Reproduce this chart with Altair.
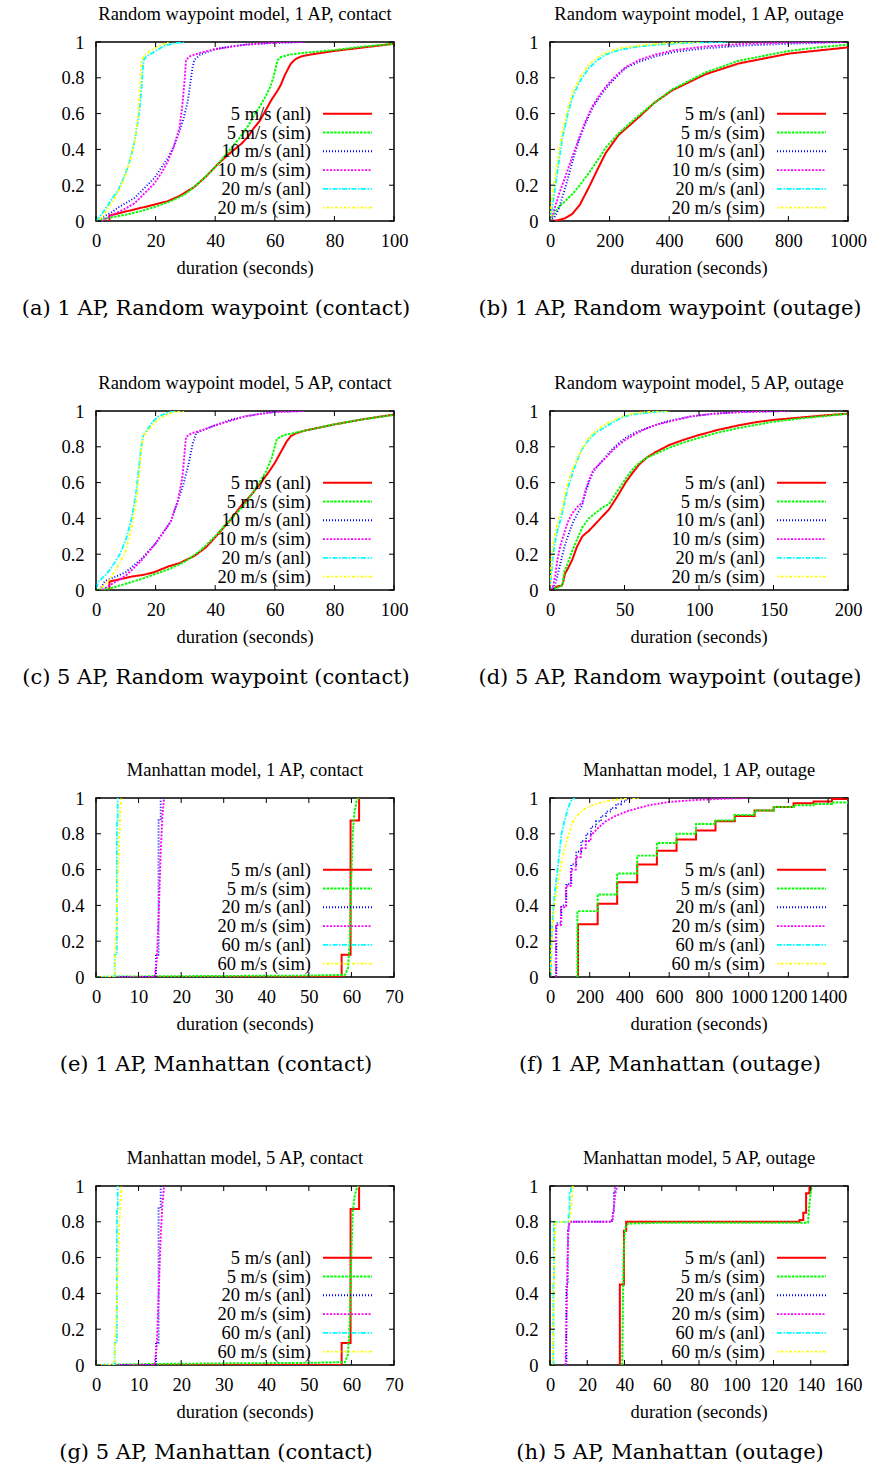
import altair as alt
import pandas as pd

# ---------------- text ----------------
TITLES = [
    "Random waypoint model, 1 AP, contact",
    "Random waypoint model, 1 AP, outage",
    "Random waypoint model, 5 AP, contact",
    "Random waypoint model, 5 AP, outage",
    "Manhattan model, 1 AP, contact",
    "Manhattan model, 1 AP, outage",
    "Manhattan model, 5 AP, contact",
    "Manhattan model, 5 AP, outage",
]
CAPTIONS = [
    "(a) 1 AP, Random waypoint (contact)",
    "(b) 1 AP, Random waypoint (outage)",
    "(c) 5 AP, Random waypoint (contact)",
    "(d) 5 AP, Random waypoint (outage)",
    "(e) 1 AP, Manhattan (contact)",
    "(f) 1 AP, Manhattan (outage)",
    "(g) 5 AP, Manhattan (contact)",
    "(h) 5 AP, Manhattan (outage)",
]
X_LABEL = "duration (seconds)"
LABELS_RW = ["5 m/s (anl)", "5 m/s (sim)", "10 m/s (anl)", "10 m/s (sim)", "20 m/s (anl)", "20 m/s (sim)"]
LABELS_MH = ["5 m/s (anl)", "5 m/s (sim)", "20 m/s (anl)", "20 m/s (sim)", "60 m/s (anl)", "60 m/s (sim)"]

# ---------------- axes ----------------
X_MAX = [100, 1000, 100, 200, 70, 1500, 70, 160]
X_TICKS = [
    [0, 20, 40, 60, 80, 100],
    [0, 200, 400, 600, 800, 1000],
    [0, 20, 40, 60, 80, 100],
    [0, 50, 100, 150, 200],
    [0, 10, 20, 30, 40, 50, 60, 70],
    [0, 200, 400, 600, 800, 1000, 1200, 1400],
    [0, 10, 20, 30, 40, 50, 60, 70],
    [0, 20, 40, 60, 80, 100, 120, 140, 160],
]
Y_TICKS = [0, 0.2, 0.4, 0.6, 0.8, 1]

# ---------------- (a) Random waypoint, 1 AP, contact ----------------
A_5ANL = [(4.5, 0), (4.5, 0.03), (8, 0.045), (13, 0.065), (18, 0.085), (24, 0.11), (28, 0.14), (33, 0.19),
          (37, 0.25), (41, 0.32), (45, 0.38), (48.7, 0.43), (51, 0.47), (53, 0.52), (55, 0.56), (57, 0.62),
          (59, 0.68), (61, 0.73), (62, 0.76), (63.5, 0.82), (65.4, 0.88), (67, 0.905), (69, 0.92), (72, 0.93),
          (80, 0.95), (90, 0.97), (100, 0.99)]
A_5SIM = [(0, 0), (2, 0.01), (5, 0.02), (10, 0.035), (15, 0.055), (20, 0.08), (25, 0.11), (30, 0.15), (35, 0.22),
          (40, 0.3), (45, 0.4), (48, 0.46), (51, 0.53), (53, 0.59), (55, 0.64), (57, 0.7), (58.5, 0.75),
          (59.5, 0.8), (60.5, 0.87), (61, 0.9), (62, 0.915), (65, 0.93), (70, 0.94), (80, 0.955), (90, 0.975),
          (100, 0.99)]
A_10ANL = [(1, 0), (2, 0.02), (5, 0.045), (7.4, 0.075), (10, 0.1), (13, 0.13), (16, 0.18), (19.6, 0.24), (22, 0.3),
           (24, 0.35), (26, 0.41), (28, 0.5), (29.5, 0.58), (30.8, 0.67), (31.5, 0.75), (32.3, 0.85), (33, 0.9),
           (35, 0.93), (40, 0.96), (45, 0.975), (50, 0.985), (60, 0.995), (70, 1.0)]
A_10SIM = [(2, 0), (4, 0.02), (7.4, 0.05), (10, 0.07), (13, 0.1), (16, 0.15), (19.6, 0.21), (22, 0.27), (24, 0.33),
           (26, 0.41), (28, 0.52), (29, 0.65), (29.8, 0.8), (30.2, 0.9), (31.5, 0.92), (35, 0.94), (40, 0.96),
           (50, 0.985), (60, 0.997), (70, 1.0)]
A_20ANL = [(0, 0), (1, 0.02), (2, 0.04), (4, 0.09), (6, 0.14), (7.4, 0.17), (9, 0.23), (10.7, 0.3), (12, 0.38),
           (13, 0.45), (14, 0.55), (14.8, 0.65), (15.3, 0.75), (15.7, 0.85), (16, 0.9), (17, 0.92), (20, 0.95),
           (23, 0.98), (27, 0.995), (30, 1.0)]
A_20SIM = [(0, 0), (2, 0.02), (4, 0.07), (6, 0.12), (8, 0.18), (10, 0.26), (12, 0.37), (13, 0.45), (14, 0.57),
           (14.8, 0.75), (15.2, 0.9), (16, 0.92), (18, 0.95), (22, 0.985), (25, 1.0)]

# ---------------- (b) Random waypoint, 1 AP, outage ----------------
B_5ANL = [(0, 0), (25, 0.003), (50, 0.015), (75, 0.04), (100, 0.09), (131, 0.19), (160, 0.29), (187, 0.38),
          (230, 0.48), (298, 0.58), (350, 0.66), (410, 0.73), (522, 0.82), (633, 0.88), (801, 0.935), (1000, 0.97)]
B_5SIM = [(0, 0), (10, 0.03), (25, 0.07), (50, 0.11), (75, 0.15), (100, 0.2), (131, 0.27), (160, 0.34), (187, 0.41),
          (230, 0.49), (298, 0.59), (350, 0.66), (410, 0.735), (522, 0.83), (633, 0.895), (801, 0.95), (900, 0.97),
          (1000, 0.985)]
B_10ANL = [(0, 0), (15, 0.02), (30, 0.07), (52, 0.19), (75, 0.33), (97, 0.45), (120, 0.55), (142, 0.63), (165, 0.69),
           (187, 0.74), (220, 0.8), (254, 0.855), (300, 0.89), (354, 0.92), (420, 0.945), (522, 0.965), (650, 0.98),
           (800, 0.99), (900, 0.995), (1000, 1.0)]
B_10SIM = [(0, 0), (10, 0.04), (30, 0.15), (52, 0.25), (75, 0.36), (97, 0.46), (120, 0.56), (142, 0.64), (165, 0.7),
           (187, 0.75), (220, 0.81), (254, 0.86), (300, 0.9), (354, 0.93), (420, 0.955), (522, 0.975), (650, 0.99),
           (800, 0.997), (1000, 1.0)]
B_20ANL = [(0, 0), (10, 0.1), (20, 0.22), (41, 0.46), (60, 0.6), (75, 0.69), (100, 0.78), (131, 0.855), (160, 0.9),
           (187, 0.93), (230, 0.955), (298, 0.975), (400, 0.99), (500, 0.998), (600, 1.0)]
B_20SIM = [(0, 0), (5, 0.1), (20, 0.28), (41, 0.5), (60, 0.63), (75, 0.71), (100, 0.8), (131, 0.875), (160, 0.915),
           (187, 0.94), (230, 0.965), (298, 0.98), (400, 0.995), (500, 1.0)]

# ---------------- (c) Random waypoint, 5 AP, contact ----------------
C_5ANL = [(4.5, 0), (4.5, 0.047), (8, 0.06), (12, 0.075), (16, 0.085), (19.6, 0.1), (24, 0.13), (28, 0.15),
          (33, 0.19), (37, 0.24), (40.8, 0.31), (45, 0.39), (48.7, 0.47), (52, 0.53), (55.4, 0.6), (58, 0.66),
          (60, 0.71), (62, 0.77), (64, 0.83), (65.4, 0.86), (67, 0.875), (70, 0.89), (80, 0.925), (90, 0.955),
          (100, 0.98)]
C_5SIM = [(0, 0), (3, 0.005), (5, 0.01), (10, 0.035), (15, 0.06), (20, 0.09), (25, 0.12), (30, 0.16), (35, 0.22),
          (40, 0.3), (45, 0.39), (50, 0.48), (54, 0.58), (57, 0.66), (59, 0.74), (60.7, 0.845), (63, 0.865),
          (66, 0.875), (70, 0.89), (80, 0.925), (90, 0.955), (100, 0.978)]
C_10ANL = [(1, 0), (2, 0.02), (3, 0.05), (6, 0.07), (10, 0.1), (15, 0.17), (20, 0.26), (25, 0.38), (27.5, 0.5),
           (29.5, 0.6), (31, 0.7), (32.5, 0.82), (33.6, 0.875), (36, 0.895), (40, 0.92), (45, 0.95), (50, 0.97),
           (55, 0.985), (60, 0.995), (70, 1.0)]
C_10SIM = [(2, 0), (5, 0.03), (10, 0.08), (15, 0.16), (20, 0.26), (25, 0.38), (27.5, 0.5), (29, 0.63), (29.8, 0.78),
           (30.2, 0.855), (32, 0.875), (36, 0.895), (40, 0.92), (50, 0.97), (60, 0.995), (70, 1.0)]
C_20ANL = [(0, 0.01), (1, 0.05), (3, 0.08), (5, 0.12), (8, 0.2), (10, 0.28), (12, 0.4), (13.5, 0.55), (14.5, 0.7),
           (15.2, 0.8), (15.8, 0.86), (17, 0.89), (19, 0.94), (21, 0.97), (24, 0.99), (27, 1.0)]
C_20SIM = [(1, 0), (3, 0.03), (5, 0.07), (8, 0.15), (10, 0.22), (12, 0.35), (13.5, 0.5), (14.5, 0.65), (15.2, 0.78),
           (16, 0.865), (18, 0.9), (20, 0.94), (23, 0.975), (26, 0.995), (30, 1.0)]

# ---------------- (d) Random waypoint, 5 AP, outage ----------------
D_5ANL = [(0, 0), (3, 0.01), (5, 0.02), (8, 0.025), (9, 0.05), (10, 0.09), (12, 0.12), (15, 0.17), (18, 0.24),
          (21.7, 0.3), (26, 0.33), (30.6, 0.37), (35, 0.41), (39.6, 0.45), (45, 0.52), (50.7, 0.6), (55, 0.65),
          (59.7, 0.7), (65, 0.74), (70.8, 0.77), (80, 0.81), (90, 0.84), (100, 0.866), (113, 0.895), (126.7, 0.92),
          (140, 0.94), (150, 0.95), (170, 0.965), (185, 0.976), (200, 0.985)]
D_5SIM = [(0, 0), (4, 0.01), (7, 0.02), (8.5, 0.03), (9.5, 0.1), (12, 0.15), (15, 0.22), (18, 0.28), (21.7, 0.35),
          (26, 0.4), (30.6, 0.43), (35, 0.46), (39.6, 0.48), (45, 0.55), (50.7, 0.62), (55, 0.67), (59.7, 0.71),
          (65, 0.74), (70.8, 0.76), (80, 0.795), (90, 0.825), (100, 0.85), (113, 0.88), (126.7, 0.905), (140, 0.925),
          (150, 0.94), (170, 0.96), (185, 0.972), (200, 0.985)]
D_10ANL = [(0, 0), (2, 0.01), (3.5, 0.03), (5, 0.08), (7, 0.15), (10, 0.25), (12, 0.3), (15, 0.37), (18, 0.42),
           (21.7, 0.475), (24, 0.55), (26, 0.6), (29, 0.66), (32.8, 0.7), (37, 0.74), (41, 0.78), (46, 0.82),
           (50.7, 0.85), (57, 0.88), (64, 0.9), (72, 0.925), (82, 0.95), (95, 0.97), (110, 0.985), (130, 0.995),
           (160, 1.0)]
D_10SIM = [(1, 0), (2, 0.02), (3.5, 0.08), (5, 0.17), (7, 0.25), (10, 0.33), (12, 0.38), (15, 0.43), (18, 0.46),
           (21.7, 0.49), (24, 0.56), (26, 0.61), (29, 0.67), (32.8, 0.7), (37, 0.735), (41, 0.77), (46, 0.81),
           (50.7, 0.84), (57, 0.87), (64, 0.9), (72, 0.925), (82, 0.945), (95, 0.97), (110, 0.985), (130, 0.995),
           (160, 1.0)]
D_20ANL = [(0, 0), (0.5, 0.05), (1.5, 0.15), (3, 0.25), (5, 0.33), (8.3, 0.43), (10, 0.5), (12, 0.57), (15, 0.65),
           (18, 0.72), (21, 0.78), (26, 0.84), (31, 0.88), (37, 0.91), (43, 0.94), (48.5, 0.965), (55, 0.98),
           (65, 0.99), (80, 1.0)]
D_20SIM = [(0, 0), (0.5, 0.1), (1.5, 0.22), (3, 0.3), (5, 0.37), (8.3, 0.46), (10, 0.53), (12, 0.6), (15, 0.67),
           (18, 0.73), (21, 0.78), (26, 0.85), (31, 0.89), (37, 0.925), (43, 0.95), (48.5, 0.97), (55, 0.985),
           (65, 0.995), (80, 1.0)]

# ---------------- (e) Manhattan, 1 AP, contact ----------------
E_5ANL = [(0, 0), (57.7, 0), (57.7, 0.125), (59.8, 0.125), (59.8, 0.875), (61.8, 0.875), (61.8, 1.0)]
E_5SIM = [(0, 0), (4, 0.002), (14, 0.004), (30, 0.006), (50, 0.008), (58.5, 0.012), (59.2, 0.05), (59.6, 0.2),
          (59.9, 0.5), (60.3, 0.8), (60.7, 0.92), (61.2, 0.98), (61.6, 1.0)]
E_20ANL = [(0, 0), (14.1, 0), (14.1, 0.125), (14.7, 0.125), (14.7, 0.875), (15.2, 0.875), (15.2, 1.0)]
E_20SIM = [(0, 0), (13.8, 0), (14.3, 0.1), (14.8, 0.4), (15.2, 0.7), (15.6, 0.9), (16.0, 1.0)]
E_60ANL = [(0, 0), (4.4, 0), (4.4, 0.125), (4.9, 0.125), (4.9, 0.875), (5.1, 0.875), (5.1, 1.0)]
E_60SIM = [(0, 0), (4.3, 0), (4.8, 0.3), (5.2, 0.6), (5.5, 0.8), (5.9, 1.0)]

# ---------------- (f) Manhattan, 1 AP, outage ----------------
F_5ANL = [(141, 0), (141, 0.294), (240, 0.294), (240, 0.409), (338, 0.409), (338, 0.53), (439, 0.53), (439, 0.628),
          (538, 0.628), (538, 0.706), (637, 0.706), (637, 0.768), (735, 0.768), (735, 0.818), (833, 0.818),
          (833, 0.87), (930, 0.87), (930, 0.9), (1030, 0.9), (1030, 0.93), (1126, 0.93), (1126, 0.95), (1226, 0.95),
          (1226, 0.97), (1327, 0.97), (1327, 0.98), (1419, 0.98), (1419, 0.995), (1500, 0.995)]
F_5SIM = [(138, 0), (138, 0.368), (240, 0.368), (240, 0.461), (338, 0.461), (338, 0.578), (439, 0.578), (439, 0.678),
          (538, 0.678), (538, 0.749), (637, 0.749), (637, 0.8), (735, 0.8), (735, 0.855), (833, 0.855), (833, 0.874),
          (930, 0.874), (930, 0.905), (1030, 0.905), (1030, 0.93), (1126, 0.93), (1126, 0.95), (1226, 0.95),
          (1226, 0.96), (1327, 0.96), (1327, 0.967), (1419, 0.967), (1419, 0.975), (1500, 0.975)]
F_20ANL = [(32, 0), (32, 0.3), (57, 0.3), (57, 0.4), (82, 0.4), (82, 0.52), (107, 0.52), (107, 0.63), (132, 0.63),
           (132, 0.7), (157, 0.7), (157, 0.76), (182, 0.76), (182, 0.8), (207, 0.8), (207, 0.84), (232, 0.84),
           (232, 0.87), (257, 0.87), (257, 0.9), (282, 0.9), (282, 0.925), (307, 0.925), (307, 0.945), (332, 0.945),
           (332, 0.965), (357, 0.965), (357, 0.98), (382, 0.98), (382, 0.995), (420, 1.0)]
F_20SIM = [(30, 0), (30, 0.29), (55, 0.29), (55, 0.39), (80, 0.39), (80, 0.51), (105, 0.51), (105, 0.6), (130, 0.6),
           (130, 0.67), (155, 0.67), (155, 0.72), (180, 0.72), (180, 0.76), (205, 0.76), (205, 0.79), (240, 0.83),
           (280, 0.87), (330, 0.9), (400, 0.93), (500, 0.96), (600, 0.978), (750, 0.99), (900, 0.997), (1000, 1.0)]
F_60ANL = [(4, 0), (8, 0.2), (12, 0.3), (18, 0.4), (27, 0.5), (38, 0.6), (48, 0.7), (58, 0.8), (70, 0.86), (80, 0.9),
           (90, 0.94), (100, 0.97), (110, 0.99), (125, 1.0)]
F_60SIM = [(2, 0), (6, 0.15), (12, 0.26), (20, 0.38), (30, 0.46), (45, 0.56), (60, 0.65), (79, 0.74), (95, 0.8),
           (112, 0.86), (135, 0.9), (162, 0.93), (200, 0.955), (246, 0.972), (300, 0.985), (363, 0.995), (450, 1.0)]

# ---------------- (g) Manhattan, 5 AP, contact ----------------
G_5ANL = [(0, 0), (57.7, 0), (57.7, 0.123), (59.8, 0.123), (59.8, 0.872), (61.8, 0.872), (61.8, 1.0)]
G_5SIM = [(0, 0), (4, 0.002), (14, 0.006), (30, 0.009), (50, 0.012), (58.5, 0.016), (59.2, 0.06), (59.6, 0.25),
          (59.9, 0.55), (60.3, 0.85), (60.8, 0.95), (61.3, 0.99), (61.7, 1.0)]
G_20ANL = [(0, 0), (14.1, 0), (14.1, 0.125), (14.7, 0.125), (14.7, 0.875), (15.2, 0.875), (15.2, 1.0)]
G_20SIM = [(0, 0), (13.8, 0), (14.3, 0.12), (14.8, 0.45), (15.2, 0.72), (15.6, 0.9), (16.0, 1.0)]
G_60ANL = [(0, 0), (4.4, 0), (4.4, 0.125), (4.9, 0.125), (4.9, 0.875), (5.1, 0.875), (5.1, 1.0)]
G_60SIM = [(0, 0), (4.3, 0), (4.8, 0.3), (5.2, 0.6), (5.5, 0.8), (6.0, 1.0)]

# ---------------- (h) Manhattan, 5 AP, outage ----------------
H_5ANL = [(37.5, 0), (37.5, 0.45), (39.7, 0.45), (39.7, 0.75), (40.9, 0.75), (40.9, 0.8), (134, 0.8), (134, 0.81),
          (136, 0.81), (136, 0.85), (137.5, 0.85), (137.5, 0.96), (139.3, 0.96), (139.3, 1.0)]
H_5SIM = [(38.8, 0), (39.2, 0.4), (39.8, 0.7), (40.5, 0.77), (42, 0.79), (60, 0.795), (138.5, 0.795), (139.3, 0.9),
          (140.5, 1.0)]
H_20ANL = [(8.8, 0), (8.8, 0.45), (9.6, 0.45), (9.6, 0.75), (10.1, 0.75), (10.1, 0.8), (33.3, 0.8), (33.3, 0.81),
           (33.8, 0.81), (33.8, 0.85), (34.3, 0.85), (34.3, 0.96), (34.8, 0.96), (34.8, 1.0)]
H_20SIM = [(8.4, 0), (8.9, 0.3), (9.4, 0.6), (10, 0.78), (11, 0.8), (33, 0.8), (34, 0.85), (35, 0.95), (36, 1.0)]
H_60ANL = [(1.8, 0), (1.8, 0.45), (2.1, 0.45), (2.1, 0.8), (10, 0.8), (10, 0.85), (10.5, 0.85), (10.5, 0.96),
           (11.2, 0.96), (11.2, 1.0)]
H_60SIM = [(1.5, 0), (2.2, 0.5), (2.8, 0.8), (10.5, 0.8), (11.5, 0.9), (12.2, 1.0)]

PANEL_SERIES = [
    [A_5ANL, A_5SIM, A_10ANL, A_10SIM, A_20ANL, A_20SIM],
    [B_5ANL, B_5SIM, B_10ANL, B_10SIM, B_20ANL, B_20SIM],
    [C_5ANL, C_5SIM, C_10ANL, C_10SIM, C_20ANL, C_20SIM],
    [D_5ANL, D_5SIM, D_10ANL, D_10SIM, D_20ANL, D_20SIM],
    [E_5ANL, E_5SIM, E_20ANL, E_20SIM, E_60ANL, E_60SIM],
    [F_5ANL, F_5SIM, F_20ANL, F_20SIM, F_60ANL, F_60SIM],
    [G_5ANL, G_5SIM, G_20ANL, G_20SIM, G_60ANL, G_60SIM],
    [H_5ANL, H_5SIM, H_20ANL, H_20SIM, H_60ANL, H_60SIM],
]
PANEL_LABELS = [LABELS_RW] * 4 + [LABELS_MH] * 4

# ---------------- styles / layout ----------------
W, H = 298, 179
SERIF = "Liberation Serif"
CAP_FONT = "DejaVu Serif"
FS = 18.5
SKEYS = ["s1", "s2", "s3", "s4", "s5", "s6"]
COLORS = ["#ff0000", "#00ff00", "#0000ff", "#ff00ff", "#00ffff", "#ffff00"]
DASHES = [[1, 0], [2.5, 1.2], [1, 2], [2, 1.5], [5, 1.5, 1.5, 1.5], [1.5, 2, 3, 2]]
WIDTHS = [2, 1.8, 1.8, 1.8, 1.8, 1.8]
ROW_TOP = [-41, -40, -40, -40]
ROW_BOTTOM = [327, 345, 346, 284]


def make_panel(k):
    xmax = X_MAX[k]
    xticks = X_TICKS[k]
    rows = []
    for si, pts in enumerate(PANEL_SERIES[k]):
        for i, (x, y) in enumerate(pts):
            rows.append({"s": SKEYS[si], "x": x, "y": y, "i": i})
    df = pd.DataFrame(rows)

    xs = alt.Scale(domain=[0, xmax], nice=False, zero=False)
    ys = alt.Scale(domain=[0, 1], nice=False)
    color = alt.Color("s:N", scale=alt.Scale(domain=SKEYS, range=COLORS), legend=None)
    dash = alt.StrokeDash("s:N", scale=alt.Scale(domain=SKEYS, range=DASHES), legend=None)
    sw = alt.StrokeWidth("s:N", scale=alt.Scale(domain=SKEYS, range=WIDTHS), legend=None)

    x_axis = alt.Axis(values=xticks, title=None, format="d", labelOverlap=False, labelFlush=False,
                      labelBound=False, labelBaseline="alphabetic", labelPadding=25)
    y_axis = alt.Axis(values=Y_TICKS, title=None, format=".1~f", labelOverlap=False, labelFlush=False,
                      labelBound=False, labelPadding=12)

    lines = alt.Chart(df).mark_line(clip=True).encode(
        x=alt.X("x:Q", scale=xs, axis=x_axis),
        y=alt.Y("y:Q", scale=ys, axis=y_axis),
        color=color, strokeDash=dash, strokeWidth=sw,
        order=alt.Order("i:Q"),
    )

    xt = pd.DataFrame({"x": xticks})
    yt = pd.DataFrame({"y": Y_TICKS})
    tick = dict(color="black", strokeWidth=1)
    xb = alt.Chart(xt).mark_rule(**tick).encode(x=alt.X("x:Q", scale=xs, axis=x_axis),
                                                y=alt.value(H), y2=alt.value(H - 5))
    xtp = alt.Chart(xt).mark_rule(**tick).encode(x=alt.X("x:Q", scale=xs, axis=x_axis),
                                                 y=alt.value(0), y2=alt.value(5))
    yl = alt.Chart(yt).mark_rule(**tick).encode(y=alt.Y("y:Q", scale=ys, axis=y_axis),
                                                x=alt.value(0), x2=alt.value(5))
    yr = alt.Chart(yt).mark_rule(**tick).encode(y=alt.Y("y:Q", scale=ys, axis=y_axis),
                                                x=alt.value(W - 5), x2=alt.value(W))

    info = pd.DataFrame({"title": [TITLES[k]], "cap": [CAPTIONS[k]], "xl": [X_LABEL]})
    t_title = alt.Chart(info).mark_text(font=SERIF, fontSize=FS, baseline="alphabetic", align="center",
                                        color="black").encode(text="title:N", x=alt.value(W / 2), y=alt.value(-22.5))
    t_xl = alt.Chart(info).mark_text(font=SERIF, fontSize=FS, baseline="alphabetic", align="center",
                                     color="black").encode(text="xl:N", x=alt.value(W / 2), y=alt.value(H + 52.5))
    t_cap = alt.Chart(info).mark_text(font=CAP_FONT, fontSize=21, baseline="alphabetic", align="center",
                                      color="black").encode(text="cap:N", x=alt.value(120), y=alt.value(H + 94))

    row = k // 2
    right_edge = 357 if k % 2 == 0 else 300
    anchor = alt.Chart(info).mark_rule(opacity=0, strokeWidth=0.01).encode(
        x=alt.value(-95), x2=alt.value(right_edge),
        y=alt.value(ROW_TOP[row]), y2=alt.value(ROW_BOTTOM[row]))

    main = alt.layer(lines, xb, xtp, yl, yr, t_title, t_xl, t_cap, anchor)

    leg = pd.DataFrame({"s": SKEYS, "label": PANEL_LABELS[k], "n": list(range(6))})
    ly = alt.Y("n:Q", scale=alt.Scale(domain=[0, 5], range=[71.7, 165.7]), axis=None)
    leg_rules = alt.Chart(leg).mark_rule().encode(
        x=alt.value(227), x2=alt.value(276), y=ly, color=color, strokeDash=dash, strokeWidth=sw)
    leg_text = alt.Chart(leg).mark_text(font=SERIF, fontSize=FS, align="right", baseline="middle",
                                        color="black").encode(x=alt.value(215), y=ly, text="label:N")
    legend = alt.layer(leg_rules, leg_text)

    return alt.layer(main, legend).resolve_scale(y="independent").properties(width=W, height=H)


panels = [make_panel(k) for k in range(8)]

chart = alt.concat(*panels, columns=2, spacing=0, bounds="full", align="each").properties(
    padding=0, background="white"
).configure_view(
    stroke="black", strokeWidth=1.5
).configure_axis(
    labelFont=SERIF, labelFontSize=FS, labelColor="black", ticks=False, domain=False, grid=False,
    labelFlush=False, labelOverlap=False, labelBound=False
)

chart.save("out.html", embed_options={"renderer": "svg", "actions": False})
